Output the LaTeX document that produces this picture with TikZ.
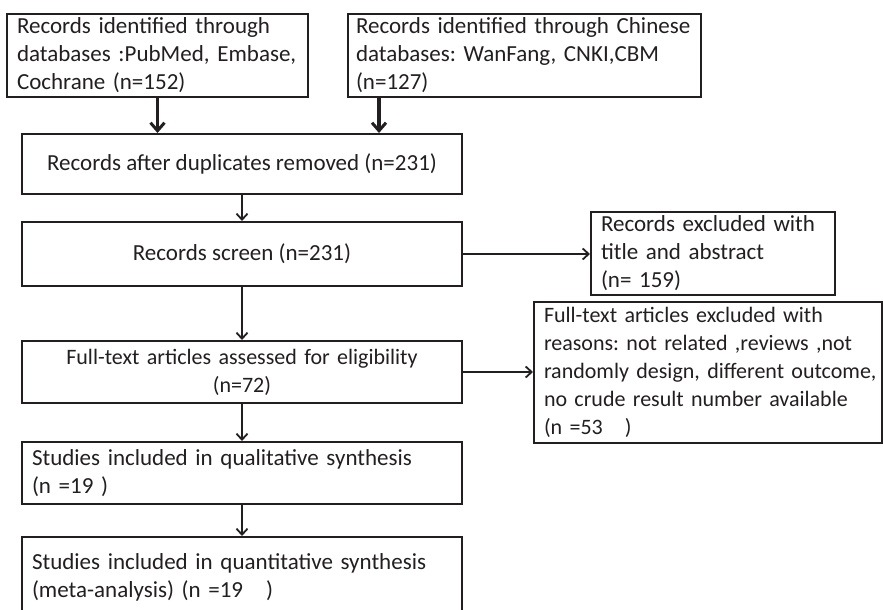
\documentclass[tikz,border=0pt]{standalone}
\usepackage{fontspec}
\setmainfont{Carlito}
\usepackage{tikz}
\usetikzlibrary{calc,arrows.meta}
\definecolor{ink}{RGB}{35,31,32}
\frenchspacing
\hyphenpenalty=10000

\begin{document}
\begin{tikzpicture}[x=1pt,y=-1pt,
  box/.style={draw=ink,line width=2pt,text=ink,rectangle,inner xsep=10pt,inner ysep=0pt,
    font=\fontsize{23}{28}\selectfont},
  lbox/.style={box,align=left},
  cbox/.style={box,align=center},
  small/.style={font=\fontsize{#1}{28}\selectfont},
  thick arrow/.style={draw=ink,line width=3.2pt,-{Straight Barb[length=8pt,width=14pt,line width=3pt]}},
  thin arrow/.style={draw=ink,line width=1.6pt,-{Straight Barb[length=6pt,width=11pt,line width=1.8pt]}}]
\clip (0,0) rectangle (883,610);
\fill[white] (0,0) rectangle (883,610);

\node[lbox,minimum width=301pt,minimum height=83pt,text width=281pt] (srcA) at (157.5,55.5)
  {Records identified through\\databases :PubMed, Embase,\\Cochrane (n=152)};
\node[lbox,inner xsep=8pt,minimum width=353pt,minimum height=83pt,text width=337pt] (srcB) at (524.5,55.5)
  {Records identified through Chinese\\databases: WanFang, CNKI,CBM\\(n=127)};
\node[cbox,minimum width=440pt,minimum height=60pt] (dedup) at (242,164)
  {Records after duplicates removed (n=231)};
\node[cbox,minimum width=440pt,minimum height=64pt] (screen) at (242,254)
  {Records screen (n=231)};
\node[lbox,minimum width=244pt,minimum height=83pt,text width=224pt] (exclA) at (713,253.5)
  {Records excluded with\\title and abstract\\(n= 159)};
\node[cbox,small=22,minimum width=440pt,minimum height=62pt,text width=420pt] (fulltext) at (242,372)
  {Full-text articles assessed for eligibility\\(n=72)};
\node[lbox,small=22,minimum width=348pt,minimum height=141pt,text width=328pt] (exclB) at (708,372.5)
  {Full-text articles excluded with\\reasons: not related ,reviews ,not\\\mbox{randomly design, different outcome,}\\no crude result number available\\(n =53\ \ \ )};
\node[lbox,minimum width=440pt,minimum height=62pt,text width=420pt] (qual) at (242,473)
  {Studies included in qualitative synthesis\\(n =19 )};
\node[lbox,minimum width=440pt,minimum height=81pt,text width=420pt] (quant) at (242,577.5)
  {Studies included in quantitative synthesis\\(meta-analysis) (n =19\ \ \ )};

\draw[thick arrow] (srcA.south) -- (srcA.south |- dedup.north);
\draw[thick arrow] ([xshift=32pt]srcB.south west) -- ([xshift=32pt]srcB.south west |- dedup.north);
\draw[thin arrow] (dedup.south) -- (screen.north);
\draw[thin arrow] (screen.south) -- (fulltext.north);
\draw[thin arrow] (fulltext.south) -- (qual.north);
\draw[thin arrow] (qual.south) -- (quant.north);
\draw[thin arrow] (screen.east) -- (screen.east -| exclA.west);
\draw[thin arrow] (fulltext.east) -- (fulltext.east -| exclB.west);
\end{tikzpicture}
\end{document}
